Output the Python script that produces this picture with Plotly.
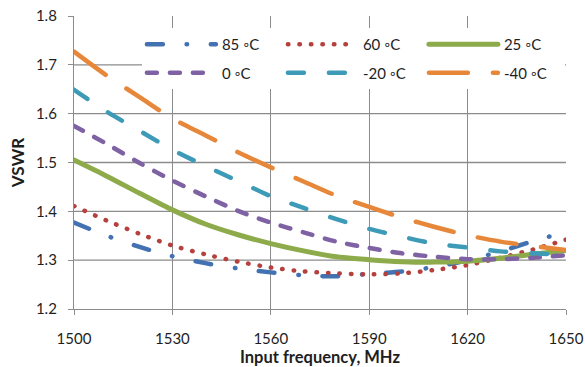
import plotly.graph_objects as go

# Input frequency sweep (MHz)
freq = [1500, 1510, 1520, 1530, 1540, 1550, 1560, 1570,
        1580, 1590, 1600, 1610, 1620, 1630, 1640, 1650]

# VSWR per case temperature
vswr_85 = [1.377, 1.350, 1.327, 1.308, 1.294, 1.283, 1.275, 1.269,
           1.267, 1.272, 1.277, 1.286, 1.300, 1.318, 1.339, 1.358]
vswr_60 = [1.411, 1.381, 1.354, 1.330, 1.312, 1.297, 1.285, 1.277,
           1.273, 1.271, 1.273, 1.280, 1.290, 1.305, 1.322, 1.342]
vswr_25 = [1.505, 1.472, 1.437, 1.403, 1.374, 1.352, 1.334, 1.319,
           1.307, 1.301, 1.297, 1.296, 1.298, 1.304, 1.312, 1.320]
vswr_0 = [1.575, 1.538, 1.499, 1.463, 1.431, 1.401, 1.377, 1.357,
          1.338, 1.325, 1.314, 1.307, 1.302, 1.302, 1.305, 1.310]
vswr_m20 = [1.649, 1.604, 1.565, 1.526, 1.493, 1.462, 1.431, 1.407,
            1.384, 1.364, 1.348, 1.334, 1.326, 1.318, 1.314, 1.311]
vswr_m40 = [1.727, 1.678, 1.634, 1.590, 1.556, 1.521, 1.490, 1.461,
            1.432, 1.409, 1.387, 1.368, 1.351, 1.338, 1.329, 1.321]

labels = ["85 ◦C", "60 ◦C", "25 ◦C", "0 ◦C", "-20 ◦C", "-40 ◦C"]
x_ticks = [1500, 1530, 1560, 1590, 1620, 1650]
y_ticks = [1.2, 1.3, 1.4, 1.5, 1.6, 1.7, 1.8]
y_grid = [1.3, 1.4, 1.5, 1.6, 1.7]

styles = [
    dict(color="#4372B2", dash="16px,23.7px,0.5px,23.7px", width=4.5, legend="legend"),
    dict(color="#B5413E", dash="0.5px,11px", width=4.5, legend="legend"),
    dict(color="#8DAB4B", dash="solid", width=5, legend="legend"),
    dict(color="#7F62A3", dash="10px,13px", width=4.5, legend="legend2"),
    dict(color="#3D9BB7", dash="16px,25px", width=4.5, legend="legend2"),
    dict(color="#E6873A", dash="39px,25px", width=4.5, legend="legend2"),
]
series = [vswr_85, vswr_60, vswr_25, vswr_0, vswr_m20, vswr_m40]

FONT = "Lato"
GRID = "#8c8c8c"
TEXT = "#1e1e1e"

fig = go.Figure()
for name, vals, st in zip(labels, series, styles):
    fig.add_trace(go.Scatter(
        x=freq, y=vals, name=name, mode="lines",
        line=dict(color=st["color"], dash=st["dash"], width=st["width"],
                  shape="spline", smoothing=0.8),
        legend=st["legend"], hoverinfo="skip",
    ))

for g in y_grid:
    fig.add_shape(type="line", xref="paper", yref="y", x0=0, x1=1, y0=g, y1=g,
                  line=dict(color=GRID, width=1.3), layer="below")

legend_common = dict(
    orientation="h", entrywidth=56, entrywidthmode="pixels",
    itemwidth=70, bgcolor="white", borderwidth=0,
    font=dict(family=FONT, size=15, color=TEXT),
    xanchor="left", yanchor="top", traceorder="normal",
)

fig.update_layout(
    width=585, height=367,
    margin=dict(l=74, r=19, t=16, b=58, autoexpand=False),
    paper_bgcolor="white", plot_bgcolor="white",
    font=dict(family=FONT, size=15, color=TEXT),
    showlegend=True,
    legend=dict(**legend_common, x=0.138, y=0.959),
    legend2=dict(**legend_common, x=0.138, y=0.862),
    xaxis=dict(
        range=[1500, 1650], tickvals=x_ticks, showgrid=True,
        gridcolor=GRID, gridwidth=1.3, showline=True, linecolor=GRID,
        linewidth=1.3, ticks="outside", ticklen=5, tickcolor=GRID,
        tickwidth=1.3, zeroline=False, ticklabelstandoff=11,
        tickfont=dict(family=FONT, size=15, color=TEXT),
        title=dict(text="<b>Input frequency, MHz</b>", standoff=6,
                   font=dict(family=FONT, size=16.5, color=TEXT)),
    ),
    yaxis=dict(
        range=[1.2, 1.8], tickvals=y_ticks, tickformat=".1f", showgrid=False,
        showline=True, linecolor=GRID, linewidth=1.3, ticks="outside",
        ticklen=5, tickcolor=GRID, tickwidth=1.3, zeroline=False,
        ticklabelstandoff=8,
        tickfont=dict(family=FONT, size=15, color=TEXT),
        title=dict(text="<b>VSWR</b>", standoff=6,
                   font=dict(family=FONT, size=17, color=TEXT)),
    ),
)

# Round line caps, and longer legend swatches
post = """
var gd = document.getElementById('{plot_id}');
gd.querySelectorAll('.scatterlayer .js-line, .legendlines path').forEach(function(p){
    p.style.strokeLinecap = 'round';
});
gd.querySelectorAll('.legendlines path').forEach(function(p){
    p.setAttribute('d', 'M5,0h69');
});
"""

fig.write_html("out.html", post_script=post)
